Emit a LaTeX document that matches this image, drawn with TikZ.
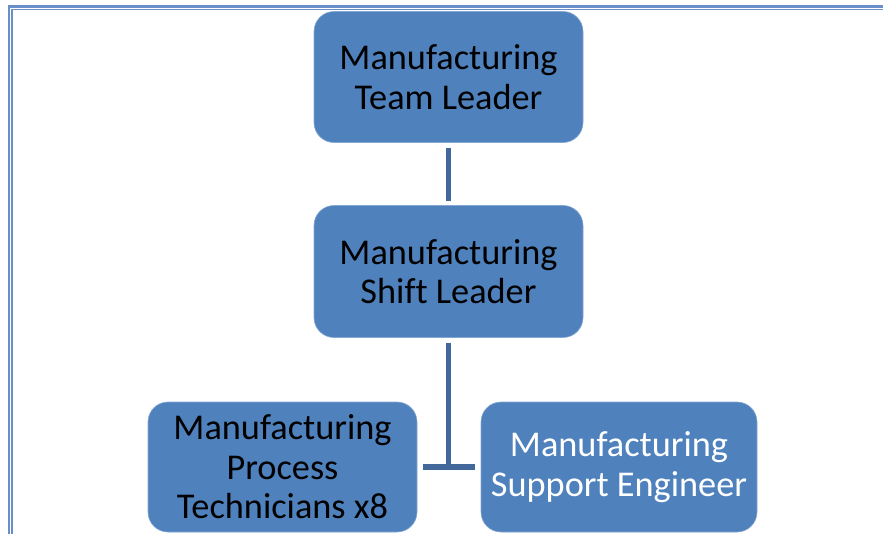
\documentclass[tikz,border=0pt]{standalone}
\usepackage{fontspec}
\setmainfont[Ligatures=NoCommon]{Carlito}
\definecolor{boxblue}{HTML}{4F81BD}
\definecolor{connblue}{HTML}{41679B}
\definecolor{framblue}{HTML}{6A8FC8}
\tikzset{
  orgbox/.style={fill=boxblue, draw=boxblue!70!white, line width=0.6pt, rounded corners=20pt,
    inner sep=0pt, align=center, text=black,
    font=\fontsize{36.3}{39.5}\selectfont},
  conn/.style={draw=connblue, line width=5.8pt},
  frame/.style={draw=framblue}
}
\begin{document}
\begin{tikzpicture}[x=1pt,y=-1pt]
\useasboundingbox (0,0) rectangle (883,533);
\clip (0,0) rectangle (883,533);
% frame
\draw[frame, line width=2.6pt] (9,540) -- (9,6.6) -- (890,6.6);
\draw[frame, line width=1.5pt] (11.9,540) -- (11.9,9.7) -- (890,9.7);
% boxes
\node[orgbox, minimum width=269pt, minimum height=131pt] (top) at (448.5,77) {Manufacturing\\Team Leader};
\node[orgbox, minimum width=269pt, minimum height=132pt] (mid) at (448.5,271.5) {Manufacturing\\Shift Leader};
\node[orgbox, minimum width=269pt, minimum height=130pt] (left) at (282.5,467) {Manufacturing\\Process\\Technicians x8};
\node[orgbox, minimum width=276pt, minimum height=130pt, text=white] (right) at (619,467) {Manufacturing\\Support Engineer};
% connectors
\draw[conn, shorten <=5pt, shorten >=4pt] (top.south) -- (mid.north);
\draw[conn, shorten <=5pt] (mid.south) -- (mid.south |- left.east);
\draw[conn, shorten <=6pt, shorten >=6pt] (left.east) -- (right.west);
\end{tikzpicture}
\end{document}
